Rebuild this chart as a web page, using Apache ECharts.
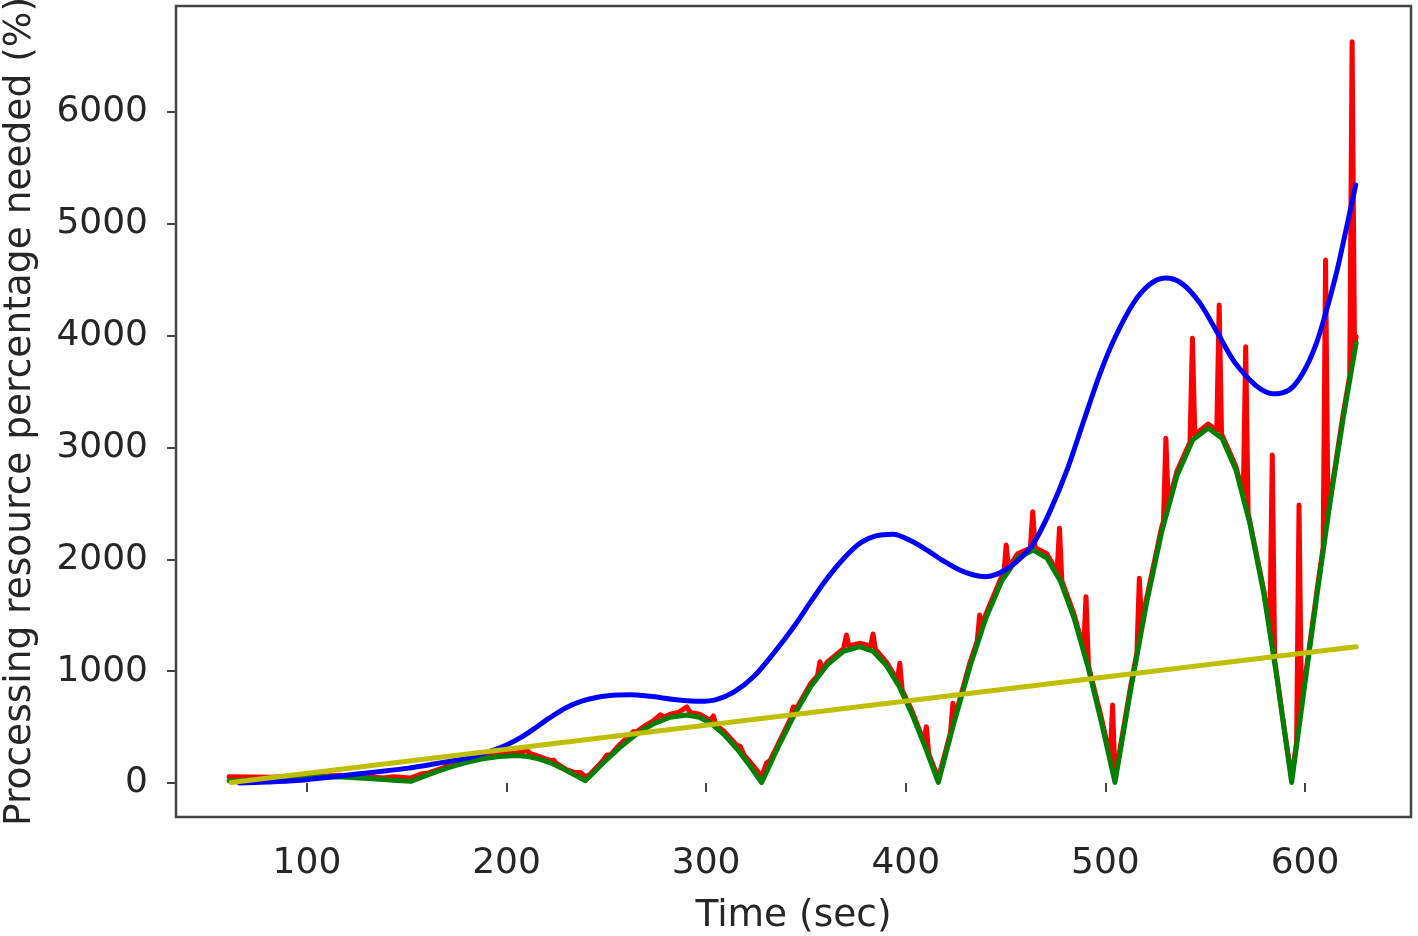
<!DOCTYPE html>
<html>
<head>
<meta charset="utf-8">
<script src="https://cdn.jsdelivr.net/npm/echarts@6/dist/echarts.min.js"></script>
<style>
html,body{margin:0;padding:0;background:#fff;}
#chart{width:1418px;height:936px;}
</style>
</head>
<body>
<div id="chart"></div>
<script>
// ---- Data ----
const xTicks = [100, 200, 300, 400, 500, 600];
const yTicks = [0, 1000, 2000, 3000, 4000, 5000, 6000];

// Red: measured processing need (with spikes)
const redT = [61, 72, 82, 90.3, 96, 103.6, 110, 117, 124, 130.3, 138, 143.6, 152, 157, 161, 169, 170.3, 172, 178.5, 183.6, 185, 190, 197, 199, 205, 210.3, 212, 216.5, 222.3, 223.6, 225, 230, 233.8, 237, 239.5, 242, 248, 250.3, 252, 256.5, 263.6, 265, 270, 273.5, 277, 279, 282, 286, 290.3, 292, 296.7, 302, 303.6, 305, 309.1, 315.4, 317, 319, 321.6, 327.8, 330.3, 332, 336, 342, 343.6, 345, 352.4, 355.8, 357, 358.2, 360.6, 368.8, 370.3, 371.5, 377, 382.4, 383.6, 384.8, 390.1, 395.8, 397, 398.2, 403.2, 409.1, 410.3, 411.5, 416.3, 422.4, 423.6, 424.8, 432.2, 435.8, 437, 438.2, 440.1, 448, 449.1, 450.3, 451.5, 456, 462.4, 463.6, 464.8, 470.7, 475.8, 477, 478.2, 484.3, 489.1, 490.3, 491.5, 498, 502.4, 503.6, 504.8, 512.6, 515.8, 517, 518.2, 520.4, 528.2, 529.1, 530.3, 531.5, 535.9, 542.4, 543.6, 544.8, 551.5, 555.8, 557, 558.2, 565.4, 569.1, 570.3, 571.5, 579.4, 582.4, 583.6, 584.8, 588.5, 593.3, 595.8, 597, 598.2, 606.3, 609.1, 610.3, 611.5, 619.2, 622.4, 623.6, 624.8, 625.6];
const redV = [55, 54, 52, 60, 55, 68, 62, 70, 60, 62, 45, 55, 45, 80, 90, 140, 165, 150, 195, 235, 228, 245, 275, 262, 268, 290, 262, 235, 200, 205, 175, 120, 95, 95, 55, 80, 195, 250, 250, 340, 460, 455, 520, 555, 610, 590, 615, 630, 680, 630, 615, 560, 600, 515, 460, 335, 330, 250, 195, 60, 180, 200, 345, 565, 680, 660, 890, 960, 1085, 1010, 1080, 1200, 1323, 1225, 1250, 1225, 1332, 1195, 1085, 920, 1070, 830, 640, 370, 503, 260, 40, 450, 713, 600, 1080, 1270, 1502, 1400, 1510, 1845, 1860, 2128, 1925, 2050, 2100, 2426, 2105, 2050, 1890, 2278, 1805, 1510, 1200, 1666, 1050, 580, 230, 697, 40, 860, 1170, 1830, 1400, 1630, 2290, 2340, 3082, 2500, 2790, 3050, 3977, 3115, 3210, 3150, 4274, 3120, 2830, 2580, 3902, 2415, 1720, 1380, 2933, 1100, 620, 40, 370, 2486, 690, 1760, 2110, 4677, 2410, 3310, 3640, 6629, 3880, 3990];

// Green: smooth arcs
const greenT = [61, 69, 77, 85, 93, 101, 110, 117, 124, 131, 138, 145, 152, 160.8, 169.7, 178.5, 187.3, 196.2, 205, 210.8, 216.5, 222.3, 228, 233.8, 239.5, 248, 256.5, 265, 273.5, 282, 290.5, 296.7, 302.9, 309.1, 315.4, 321.6, 327.8, 336, 344.2, 352.4, 360.6, 368.8, 377, 383.6, 390.1, 396.7, 403.2, 409.8, 416.3, 424.2, 432.2, 440.1, 448, 456, 463.9, 470.7, 477.5, 484.3, 491.2, 498, 504.8, 512.6, 520.4, 528.2, 535.9, 543.7, 551.5, 558.5, 565.4, 572.4, 579.4, 586.3, 593.3, 599.8, 606.3, 612.7, 619.2, 625.6];
const greenV = [18, 24, 32, 40, 47, 52, 55, 53, 48, 40, 31, 22, 15, 75, 130, 178, 214, 237, 245, 237, 214, 178, 130, 75, 20, 172, 314, 436, 529, 588, 608, 588, 527, 431, 306, 161, 5, 320, 612, 863, 1056, 1178, 1219, 1178, 1056, 863, 612, 319, 5, 543, 1044, 1474, 1805, 2012, 2083, 2012, 1805, 1474, 1044, 543, 5, 826, 1590, 2246, 2749, 3066, 3174, 3080, 2800, 2320, 1690, 900, 5, 870, 1720, 2530, 3270, 3934];

// Blue: smooth fitted curve
const blueT = [66, 80, 95, 110, 125, 140, 150, 165, 180, 192, 200, 207, 213, 221, 230, 238, 246.8, 255, 262, 272, 285, 297, 305, 314, 324, 334, 344, 352, 360, 368, 377, 385, 393.7, 402, 410, 418, 427, 434, 440, 446, 452, 458, 464, 472, 481, 489, 497.5, 505, 514, 522, 530, 538, 547, 556, 564, 572.4, 578, 584, 589, 594, 600, 605.7, 610, 615.7, 620, 625.4];
const blueV = [0, 8, 22, 50, 80, 110, 131, 175, 222, 285, 340, 405, 475, 575, 675, 735, 772, 788, 790, 775, 745, 730, 745, 815, 955, 1165, 1400, 1610, 1815, 1990, 2143, 2210, 2225, 2170, 2090, 1995, 1905, 1860, 1845, 1870, 1930, 2020, 2143, 2420, 2810, 3230, 3670, 3990, 4290, 4455, 4515, 4470, 4300, 4030, 3782, 3604, 3520, 3480, 3490, 3544, 3700, 3932, 4180, 4558, 4900, 5348];

// Yellow: linear trend
const yellowT = [62, 625.6];
const yellowV = [5, 1219];

function pairs(t, v) { return t.map((x, i) => [x, v[i]]); }

const chart = echarts.init(document.getElementById('chart'), null, {renderer: 'canvas'});
const font = 'DejaVu Sans';
const lineSeries = (name, t, v, color, extra) => Object.assign({
  name: name, type: 'line', data: pairs(t, v), showSymbol: false, symbol: 'none',
  lineStyle: {color: color, width: 5, join: 'round', cap: 'round'},
  itemStyle: {color: color}, animation: false
}, extra || {});

chart.setOption({
  backgroundColor: '#ffffff',
  animation: false,
  grid: {left: 176, top: 6, width: 1235, height: 811, show: true, borderColor: '#444', borderWidth: 2.5,
         backgroundColor: 'transparent', outerBoundsMode: 'none', containLabel: false},
  xAxis: {
    type: 'value', min: 34.4, max: 653.1,
    axisLine: {show: false},
    splitLine: {show: false},
    axisTick: {show: true, length: 9, customValues: xTicks, lineStyle: {color: '#444', width: 2}},
    axisLabel: {customValues: xTicks, margin: 29, fontFamily: font, fontSize: 36, color: '#262626',
                formatter: v => String(v)},
    name: 'Time (sec)', nameLocation: 'middle', nameGap: 80,
    nameTextStyle: {fontFamily: font, fontSize: 37.5, color: '#262626', verticalAlign: 'top'}
  },
  yAxis: {
    type: 'value', min: -304, max: 6948,
    axisLine: {show: false},
    splitLine: {show: false},
    axisTick: {show: true, length: 9, customValues: yTicks, lineStyle: {color: '#444', width: 2}},
    axisLabel: {customValues: yTicks, margin: 28, fontFamily: font, fontSize: 36, color: '#262626',
                formatter: v => String(v)},
    name: 'Processing resource percentage needed (%)', nameLocation: 'middle', nameGap: 137,
    nameTextStyle: {fontFamily: font, fontSize: 37.5, color: '#262626'}
  },
  series: [
    lineSeries('red', redT, redV, '#ff0000'),
    lineSeries('green', greenT, greenV, '#008000'),
    lineSeries('blue', blueT, blueV, '#0000ff', {smooth: 0.3}),
    lineSeries('yellow', yellowT, yellowV, '#bfbf00')
  ]
});
</script>
</body>
</html>
